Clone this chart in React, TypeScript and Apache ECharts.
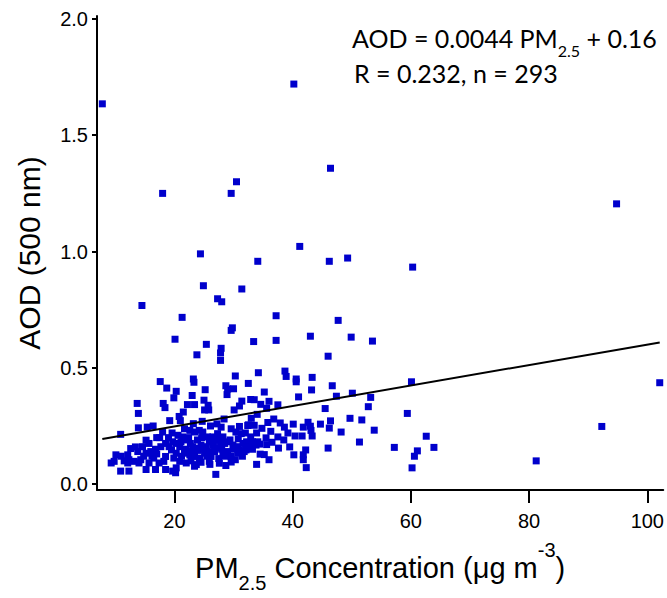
import React, { useEffect, useRef } from "react";
import * as echarts from "echarts";

// PM2.5 (µg m-3), AOD (500 nm) pairs
const outliers: [number, number][] = [
  [7.8, 1.635], [40.2, 1.72], [46.4, 1.358], [18.0, 1.25], [30.5, 1.3], [29.6, 1.25],
  [24.4, 0.99], [34.1, 0.958], [41.2, 1.022], [46.2, 0.958], [49.3, 0.972], [24.9, 0.853],
  [31.4, 0.839], [27.3, 0.797], [28.0, 0.784], [14.5, 0.768], [94.8, 1.205], [60.3, 0.933],
  [102.1, 0.436], [92.3, 0.248], [81.2, 0.1],
];
const near60: [number, number][] = [
  [60.1, 0.44], [59.4, 0.304], [62.6, 0.206], [57.2, 0.158], [63.9, 0.158], [61.1, 0.143],
  [60.6, 0.12], [60.2, 0.07],
];
const band45to55: [number, number][] = [
  [47.7, 0.704], [49.9, 0.632], [53.5, 0.615], [46.0, 0.55], [46.7, 0.423], [47.4, 0.378],
  [50.1, 0.391], [53.2, 0.373], [52.8, 0.333], [45.5, 0.325], [44.7, 0.258], [46.4, 0.272],
  [46.2, 0.241], [49.7, 0.283], [51.7, 0.276], [48.2, 0.224], [53.8, 0.232], [46.0, 0.155],
  [51.3, 0.181],
];
const band32to44: [number, number][] = [
  [37.2, 0.724], [33.4, 0.613], [37.2, 0.618], [43.0, 0.636], [34.2, 0.479], [32.5, 0.433],
  [38.7, 0.486], [38.9, 0.463], [40.6, 0.452], [40.6, 0.44], [43.3, 0.459], [43.2, 0.405],
  [41.0, 0.375], [35.2, 0.396], [32.9, 0.364], [33.5, 0.363], [36.0, 0.356], [34.6, 0.343],
  [35.6, 0.326], [37.5, 0.341], [33.0, 0.283], [33.5, 0.253], [32.5, 0.255], [35.8, 0.265],
  [37.9, 0.263], [38.6, 0.245], [40.1, 0.258], [41.8, 0.245], [42.6, 0.266], [43.0, 0.249],
  [43.1, 0.231], [36.3, 0.227], [37.5, 0.203], [40.4, 0.207], [41.6, 0.207], [43.3, 0.207],
  [35.5, 0.199], [37.6, 0.155], [42.2, 0.147], [40.2, 0.126], [41.8, 0.126], [41.8, 0.105],
  [34.5, 0.129], [35.2, 0.127], [36.0, 0.105], [33.9, 0.085], [42.3, 0.071], [32.9, 0.203],
  [32.2, 0.182], [33.2, 0.182], [34.1, 0.182], [32.7, 0.164], [33.8, 0.168], [34.4, 0.172],
  [32.1, 0.147], [33.2, 0.15],
];
const band19to32: [number, number][] = [
  [21.3, 0.717], [29.6, 0.661], [29.8, 0.672], [20.1, 0.623], [25.4, 0.601], [27.9, 0.584],
  [27.8, 0.564], [23.8, 0.556], [27.8, 0.532], [23.2, 0.452], [23.3, 0.438], [30.3, 0.465],
  [28.7, 0.423], [29.0, 0.409], [30.0, 0.41], [28.9, 0.385], [25.2, 0.406], [20.3, 0.399],
  [19.9, 0.371], [23.0, 0.381], [25.0, 0.361], [25.7, 0.339], [25.8, 0.319], [25.1, 0.319],
  [22.2, 0.342], [23.4, 0.342], [31.4, 0.357], [31.0, 0.336], [30.1, 0.319], [20.8, 0.291],
  [21.0, 0.273], [24.7, 0.27], [27.2, 0.259], [27.9, 0.245], [29.6, 0.238], [31.0, 0.248],
  [32.4, 0.252], [21.7, 0.238], [22.6, 0.231], [23.4, 0.224], [24.2, 0.231], [24.8, 0.224],
  [20.6, 0.21], [21.4, 0.203], [25.6, 0.203], [26.5, 0.203], [27.3, 0.217], [28.2, 0.203],
  [30.4, 0.224], [31.3, 0.217], [19.7, 0.182], [20.3, 0.175], [20.9, 0.161], [21.1, 0.182],
  [22.7, 0.175], [23.1, 0.161], [23.8, 0.154], [24.5, 0.168], [25.4, 0.161], [25.9, 0.182],
  [26.5, 0.168], [27.6, 0.189], [28.5, 0.175], [29.0, 0.182], [29.9, 0.168], [30.7, 0.161],
  [31.6, 0.175], [32.1, 0.161], [19.5, 0.147], [20.3, 0.133], [21.7, 0.133], [22.6, 0.126],
  [23.4, 0.119], [24.2, 0.112], [25.1, 0.133], [26.2, 0.119], [26.8, 0.14], [28.2, 0.133],
  [29.6, 0.119], [30.7, 0.133], [31.8, 0.14], [19.9, 0.112], [20.9, 0.098], [22.0, 0.091],
  [23.7, 0.084], [24.5, 0.094], [25.9, 0.098], [29.6, 0.095], [31.0, 0.147], [20.3, 0.07],
  [19.7, 0.056], [20.2, 0.049], [27.0, 0.042], [23.4, 0.077],
];
const band9to19: [number, number][] = [
  [17.6, 0.441], [18.7, 0.413], [13.7, 0.347], [13.9, 0.304], [18.1, 0.347], [18.4, 0.329],
  [19.2, 0.273], [13.9, 0.242], [15.4, 0.245], [10.9, 0.214], [18.0, 0.224], [17.5, 0.2],
  [15.2, 0.189], [15.7, 0.175], [14.6, 0.161], [12.6, 0.153], [13.8, 0.14], [15.2, 0.133],
  [16.0, 0.14], [16.8, 0.15], [17.7, 0.161], [18.5, 0.175], [19.1, 0.161], [18.5, 0.119],
  [10.1, 0.126], [9.3, 0.091], [9.8, 0.098], [12.1, 0.126], [12.3, 0.105], [12.1, 0.091],
  [13.2, 0.098], [14.0, 0.091], [14.3, 0.105], [15.7, 0.091], [16.5, 0.112], [17.4, 0.091],
  [18.2, 0.098], [10.9, 0.056], [12.3, 0.056], [15.2, 0.063], [16.8, 0.063], [18.5, 0.063],
];
const hiddenInCluster: [number, number][] = [
  [16.2, 0.12], [17.0, 0.13], [14.8, 0.12], [13.4, 0.16], [11.5, 0.1], [11.0, 0.12],
  [19.0, 0.2], [19.6, 0.22], [21.8, 0.19], [22.4, 0.2], [23.9, 0.19], [24.6, 0.2],
  [22.0, 0.15], [23.0, 0.14], [24.0, 0.145], [25.0, 0.15], [26.0, 0.14], [27.0, 0.155],
  [28.0, 0.15], [29.0, 0.14], [30.0, 0.15], [31.0, 0.14], [26.6, 0.18], [27.8, 0.17],
  [24.3, 0.11], [25.5, 0.12], [27.5, 0.11], [28.6, 0.12], [30.3, 0.105], [31.5, 0.12],
  [26.0, 0.085], [27.6, 0.09], [28.7, 0.08], [22.8, 0.1], [21.2, 0.12], [29.4, 0.19],
  [30.8, 0.195], [32.0, 0.22], [33.9, 0.22], [34.8, 0.24], [35.6, 0.17], [36.5, 0.18],
  [38.5, 0.19], [39.2, 0.22], [39.5, 0.16], [36.8, 0.28], [34.0, 0.3], [28.4, 0.28],
  [26.1, 0.25], [23.2, 0.26], [17.0, 0.2], [16.4, 0.25], [21.5, 0.31],
];

const fitSlope = 0.0044;
const fitIntercept = 0.16;
const xTicks = [20, 40, 60, 80, 100];
const yTicks = [0, 0.5, 1.0, 1.5, 2.0];
const equationLine = "{a|AOD = 0.0044 PM}{s|2.5}{a| + 0.16}";
const statsLine = "R = 0.232, n = 293";

export default function App() {
  const ref = useRef<HTMLDivElement>(null);
  useEffect(() => {
    if (!ref.current) return;
    const chart = echarts.init(ref.current, undefined, { renderer: "svg" });
    const points = [
      ...outliers, ...near60, ...band45to55, ...band32to44, ...band19to32, ...band9to19, ...hiddenInCluster,
    ];
    const xs = points.map((p) => p[0]);
    const xMin = Math.min(...xs);
    const xMax = Math.max(...xs);
    const fit = [
      [xMin, fitSlope * xMin + fitIntercept],
      [xMax, fitSlope * xMax + fitIntercept],
    ];
    const axisFont = "'Liberation Sans', Arial, sans-serif";
    const annFont = "Lato, 'Open Sans', sans-serif";
    chart.setOption({
      animation: false,
      backgroundColor: "#fff",
      grid: { left: 97, right: 0, top: 16, bottom: 97, containLabel: false },
      xAxis: {
        type: "value",
        min: 6.9,
        max: 102.7,
        splitLine: { show: false },
        axisLine: { show: true, onZero: false, lineStyle: { color: "#000", width: 2 } },
        axisTick: { show: true, length: 13, customValues: xTicks, lineStyle: { color: "#000", width: 2 } },
        axisLabel: { customValues: xTicks, color: "#000", fontSize: 20, fontFamily: axisFont, margin: 21 },
        name: "{a|PM}{s|2.5}{a| Concentration (μg m}{p|-3}{a|)}",
        nameLocation: "middle",
        nameGap: 62,
        nameTextStyle: {
          rich: {
            a: { fontSize: 29, fontFamily: axisFont, color: "#000", lineHeight: 32, verticalAlign: "middle" },
            s: { fontSize: 20, fontFamily: axisFont, color: "#000", lineHeight: 32, verticalAlign: "bottom", padding: [0, 0, -9, 0] },
            p: { fontSize: 20, fontFamily: axisFont, color: "#000", lineHeight: 32, verticalAlign: "top", padding: [-12, 0, 0, 0] },
          },
        },
      },
      yAxis: {
        type: "value",
        min: -0.0252,
        max: 2.0126,
        splitLine: { show: false },
        axisLine: { show: true, onZero: false, lineStyle: { color: "#000", width: 2 } },
        axisTick: { show: true, length: 5, customValues: yTicks, lineStyle: { color: "#000", width: 2 } },
        axisLabel: {
          customValues: yTicks,
          color: "#000",
          fontSize: 20,
          fontFamily: axisFont,
          margin: 9,
          formatter: (v: number) => v.toFixed(1),
        },
        name: "AOD (500 nm)",
        nameLocation: "middle",
        nameGap: 53,
        nameTextStyle: { fontSize: 30, fontFamily: axisFont, color: "#000" },
      },
      series: [
        {
          type: "scatter",
          data: points,
          symbol: "rect",
          symbolSize: 7,
          itemStyle: { color: "#0000CC", opacity: 1 },
          z: 2,
        },
        {
          type: "line",
          data: fit,
          showSymbol: false,
          symbol: "none",
          lineStyle: { color: "#000", width: 2 },
          z: 3,
        },
      ],
      graphic: [
        {
          type: "text",
          left: 352,
          top: 25,
          style: {
            text: equationLine,
            rich: {
              a: { fontSize: 25, fontFamily: annFont, fill: "#000", lineHeight: 30, verticalAlign: "middle" },
              s: { fontSize: 16, fontFamily: annFont, fill: "#000", lineHeight: 30, verticalAlign: "bottom", padding: [0, 0, -6, 0] },
            },
          },
        },
        {
          type: "text",
          left: 354,
          top: 60,
          style: {
            text: statsLine,
            fontSize: 25,
            fontFamily: annFont,
            fill: "#000",
          },
        },
      ],
    });
    return () => chart.dispose();
  }, []);
  return <div ref={ref} style={{ position: "absolute", left: 0, top: 0, width: 667, height: 598 }} />;
}
